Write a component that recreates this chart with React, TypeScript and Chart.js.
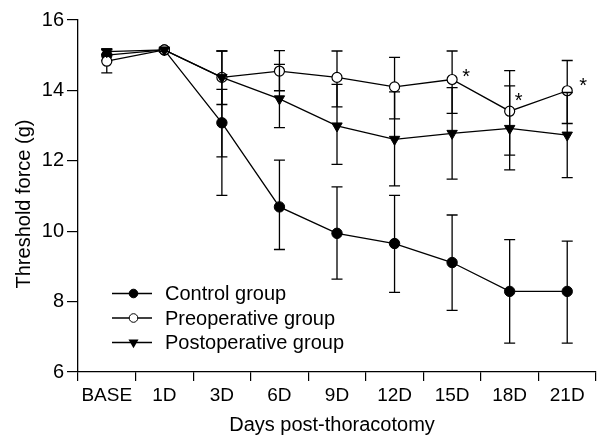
import React, { useEffect, useRef } from "react";
import { Chart, registerables } from "chart.js";

Chart.register(...registerables);

const categories = ["BASE", "1D", "3D", "6D", "9D", "12D", "15D", "18D", "21D"];

const controlMean = [15.0, 15.15, 13.08, 10.69, 9.94, 9.65, 9.11, 8.29, 8.29];
const controlErrUp = [0.15, 0.05, 0.95, 1.33, 1.32, 1.37, 1.35, 1.47, 1.43];
const controlErrDown = [0.15, 0.05, 0.97, 1.21, 1.3, 1.39, 1.36, 1.47, 1.47];

const preMean = [14.83, 15.15, 14.37, 14.55, 14.37, 14.1, 14.31, 13.41, 13.99];
const preErrUp = [0.33, 0.05, 0.75, 0.58, 0.75, 0.84, 0.81, 1.15, 0.86];
const preErrDown = [0.33, 0.05, 0.77, 0.56, 0.84, 0.91, 0.96, 1.25, 0.93];

const postMean = [15.1, 15.15, 14.37, 13.76, 12.99, 12.61, 12.78, 12.92, 12.73];
const postErrUp = [0.08, 0.05, 0.75, 0.98, 1.18, 1.35, 1.3, 1.21, 1.21];
const postErrDown = [0.08, 0.05, 3.35, 0.82, 1.09, 1.32, 1.3, 1.18, 1.21];

const preSignificant = [false, false, false, false, false, false, true, true, true];

const yMin = 6;
const yMax = 16;
const yStep = 2;

const seriesNames = ["Control group", "Preoperative group", "Postoperative group"];
const xTitle = "Days post-thoracotomy";
const yTitle = "Threshold force (g)";

const FONT = '"Liberation Sans", Arial, Helvetica, sans-serif';

export default function App() {
  const ref = useRef<HTMLCanvasElement>(null);

  useEffect(() => {
    const canvas = ref.current;
    if (!canvas) return;

    const errs: Record<string, { up: number[]; down: number[] }> = {
      [seriesNames[0]]: { up: controlErrUp, down: controlErrDown },
      [seriesNames[1]]: { up: preErrUp, down: preErrDown },
      [seriesNames[2]]: { up: postErrUp, down: postErrDown },
    };

    const errorBars = {
      id: "errorBars",
      beforeDatasetDraw(chart: any, args: any) {
        const ds = chart.data.datasets[args.index];
        const e = errs[ds.label];
        if (!e) return;
        const y = chart.scales.y;
        const ctx = chart.ctx;
        ctx.save();
        ctx.strokeStyle = "#000";
        ctx.lineWidth = 1.3;
        args.meta.data.forEach((pt: any, j: number) => {
          const v = ds.data[j];
          const top = y.getPixelForValue(v + e.up[j]);
          const bot = y.getPixelForValue(v - e.down[j]);
          const x = pt.x;
          ctx.beginPath();
          ctx.moveTo(x, top);
          ctx.lineTo(x, bot);
          ctx.moveTo(x - 5.5, top);
          ctx.lineTo(x + 5.5, top);
          ctx.moveTo(x - 5.5, bot);
          ctx.lineTo(x + 5.5, bot);
          ctx.stroke();
        });
        ctx.restore();
      },
    };

    const extras = {
      id: "extras",
      afterDraw(chart: any) {
        const ctx = chart.ctx;
        const area = chart.chartArea;
        ctx.save();
        ctx.fillStyle = "#000";
        ctx.strokeStyle = "#000";

        // asterisks on preoperative group
        const preIdx = chart.data.datasets.findIndex((d: any) => d.label === seriesNames[1]);
        const preMeta = chart.getDatasetMeta(preIdx);
        const starOffsets: Record<number, [number, number]> = { 6: [14, -2], 7: [9, -9.5], 8: [16, -4.5] };
        ctx.font = `20px ${FONT}`;
        ctx.textAlign = "center";
        ctx.textBaseline = "middle";
        preSignificant.forEach((s, j) => {
          if (!s) return;
          const p = preMeta.data[j];
          const off = starOffsets[j] || [13, -4];
          ctx.fillText("*", p.x + off[0], p.y + off[1]);
        });

        // legend
        const rows = [
          { name: seriesNames[0], style: "filled" },
          { name: seriesNames[1], style: "open" },
          { name: seriesNames[2], style: "tri" },
        ];
        const lx0 = area.left + 34;
        const lx1 = area.left + 74;
        const mx = area.left + 55.5;
        const tx = area.left + 87;
        const ly0 = area.top + 273.5;
        const dy = 24.5;
        ctx.font = `20px ${FONT}`;
        ctx.textAlign = "left";
        ctx.textBaseline = "middle";
        rows.forEach((r, i) => {
          const yy = ly0 + i * dy;
          ctx.lineWidth = 1.3;
          ctx.beginPath();
          ctx.moveTo(lx0, yy);
          ctx.lineTo(lx1, yy);
          ctx.stroke();
          ctx.lineWidth = 1;
          ctx.beginPath();
          if (r.style === "tri") {
            const rr = 5.8;
            ctx.moveTo(mx - rr * 0.866, yy - rr * 0.5);
            ctx.lineTo(mx + rr * 0.866, yy - rr * 0.5);
            ctx.lineTo(mx, yy + rr);
            ctx.closePath();
            ctx.fillStyle = "#000";
            ctx.fill();
          } else {
            ctx.arc(mx, yy, 4.3, 0, Math.PI * 2);
            ctx.fillStyle = r.style === "filled" ? "#000" : "#fff";
            ctx.fill();
            ctx.stroke();
          }
          ctx.fillStyle = "#000";
          ctx.fillText(r.name, tx, yy + 1);
        });

        // axis titles
        ctx.font = `20px ${FONT}`;
        ctx.textAlign = "center";
        ctx.textBaseline = "middle";
        ctx.fillText(xTitle, 332, 425);
        ctx.translate(24, (area.top + area.bottom) / 2 + 8);
        ctx.rotate(-Math.PI / 2);
        ctx.fillText(yTitle, 0, 0);
        ctx.restore();
      },
    };

    const chart = new Chart(canvas, {
      type: "line",
      data: {
        labels: categories,
        datasets: [
          {
            label: seriesNames[2],
            data: postMean,
            borderColor: "#000",
            borderWidth: 1.3,
            pointStyle: "triangle",
            rotation: 180,
            pointRadius: 6,
            pointBackgroundColor: "#000",
            pointBorderColor: "#000",
            pointBorderWidth: 1,
            fill: false,
          } as any,
          {
            label: seriesNames[1],
            data: preMean,
            borderColor: "#000",
            borderWidth: 1.3,
            pointStyle: "circle",
            pointRadius: 5,
            pointBackgroundColor: "#fff",
            pointBorderColor: "#000",
            pointBorderWidth: 1.2,
            fill: false,
          },
          {
            label: seriesNames[0],
            data: controlMean,
            borderColor: "#000",
            borderWidth: 1.3,
            pointStyle: "circle",
            pointRadius: 5.2,
            pointBackgroundColor: "#000",
            pointBorderColor: "#000",
            pointBorderWidth: 1,
            fill: false,
          },
        ],
      },
      options: {
        animation: false,
        responsive: false,
        maintainAspectRatio: false,
        layout: { padding: { top: 20, right: 7, left: 0, bottom: 0 } },
        plugins: {
          legend: { display: false },
          tooltip: { enabled: false },
        },
        scales: {
          x: {
            type: "category",
            offset: true,
            grid: {
              offset: true,
              drawOnChartArea: false,
              tickLength: 9,
              color: "#000",
              lineWidth: 1.2,
            },
            border: { color: "#000", width: 1.3 },
            ticks: {
              color: "#000",
              font: { family: FONT, size: 19 },
              padding: 3,
              maxRotation: 0,
              autoSkip: false,
            },
            afterFit(scale: any) {
              scale.height = 69;
            },
          },
          y: {
            min: yMin,
            max: yMax,
            grid: {
              drawOnChartArea: false,
              tickLength: 11,
              color: "#000",
              lineWidth: 1.2,
            },
            border: { color: "#000", width: 1.3 },
            ticks: {
              stepSize: yStep,
              color: "#000",
              font: { family: FONT, size: 20 },
              padding: 3,
            },
            afterFit(scale: any) {
              scale.width = 78;
            },
          },
        },
      },
      plugins: [errorBars, extras],
    });

    return () => chart.destroy();
  }, []);

  return (
    <div style={{ position: "absolute", left: 0, top: 0, width: 603, height: 441, background: "#fff" }}>
      <canvas ref={ref} width={603} height={441} style={{ display: "block" }} />
    </div>
  );
}
